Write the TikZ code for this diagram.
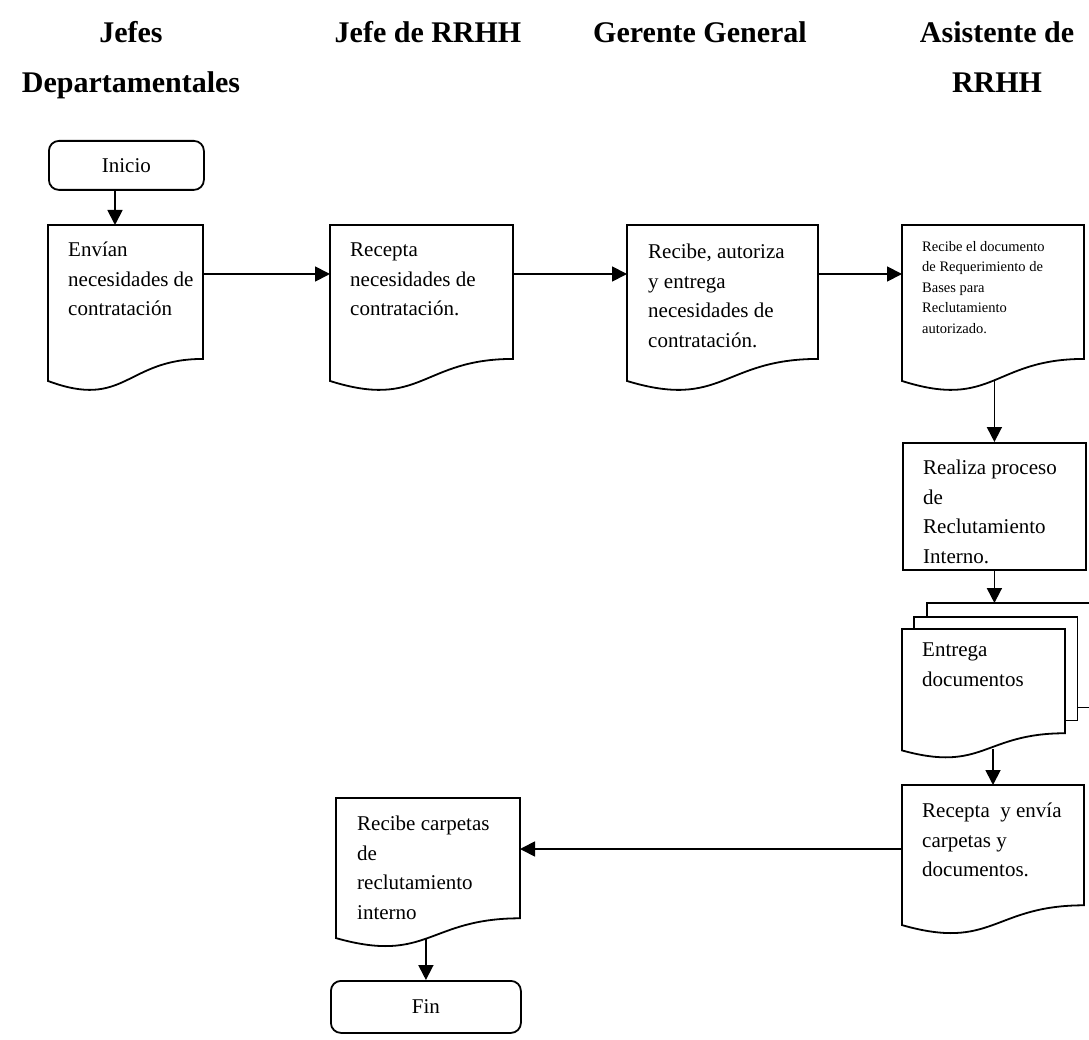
\documentclass[tikz,border=0pt]{standalone}
\usepackage{fontspec}
\setmainfont{Liberation Serif}
\usetikzlibrary{arrows.meta,calc}
\newcommand\mydoc[5]{%
  \node[inner sep=0pt,outer sep=0pt,minimum width=#4pt,minimum height=#5pt,anchor=north west] (#1) at (#2,#3) {};
  \draw[ln] (#1.north west) -- (#1.north east) -- ($(#1.north east)!0.802!(#1.south east)$)
    .. controls ($(#1.north)!0.802!(#1.south)$) and ($(#1.north)!1.1075!(#1.south)$) ..
    ($(#1.north west)!0.934!(#1.south west)$) -- cycle;
}
\begin{document}
\begin{tikzpicture}[x=1pt,y=-1pt,
  ln/.style={line width=1.8pt,line join=miter},
  arr/.style={line width=1.8pt,-{Triangle[length=15pt,width=15pt]}},
  hdr/.style={font=\fontsize{30}{36}\selectfont\bfseries,anchor=base,inner sep=0pt},
  txt/.style={font=\fontsize{21}{29.5}\selectfont,align=left,anchor=north west,inner sep=0pt},
  smalltxt/.style={font=\fontsize{14.5}{20.5}\selectfont,align=left,anchor=north west,inner sep=0pt},
  term/.style={draw,ln,rounded corners=10pt,inner sep=0pt,anchor=north west,font=\fontsize{21}{25}\selectfont}]
\useasboundingbox (0,0) rectangle (1089,1040);
\clip (0,0) rectangle (1089,1040);

% headers
\node[hdr] (h1a) at (131,43) {Jefes};
\node[hdr] (h1b) at (131,93) {Departamentales};
\node[hdr] (h2) at (428,43) {Jefe de RRHH};
\node[hdr] (h3) at (700,43) {Gerente General};
\node[hdr] (h4a) at (997,43) {Asistente de};
\node[hdr] (h4b) at (997,93) {RRHH};

% terminals
\node[term,minimum width=155pt,minimum height=49pt] (ini) at (48,140) {Inicio};
\node[term,minimum width=190pt,minimum height=52pt] (fin) at (330,980) {Fin};

% documents
\mydoc{d1}{48}{225}{155}{167}
\mydoc{d2}{330}{225}{183}{167}
\mydoc{d3}{627}{225}{191}{167}
\mydoc{d4}{902}{225}{182}{167}
\node[draw,ln,inner sep=0pt,minimum width=183pt,minimum height=127pt,anchor=north west] (b5) at (902,442) {};

% multi-document
\node[inner sep=0pt,minimum width=163pt,minimum height=104pt,anchor=north west] (m3) at (927,603) {};
\node[inner sep=0pt,minimum width=163pt,minimum height=103pt,anchor=north west] (m2) at (914,617) {};
\draw[ln] ($(m3.north west)+(0,14)$) -- (m3.north west) -- (m3.north east) -- (m3.south east) -- ($(m3.south east)+(-13,0)$);
\draw[ln] ($(m2.north west)+(0,12)$) -- (m2.north west) -- (m2.north east) -- (m2.south east) -- ($(m2.south east)+(-12,0)$);
\mydoc{m1}{902}{629}{163}{130}

\mydoc{d6}{902}{785}{182}{150}
\mydoc{d7}{336}{798}{184}{150}

% texts (positions: first-line top)
\node[txt] (t1) at (68,242) {Envían\\necesidades de\\contratación};
\node[txt] (t2) at (350,243) {Recepta\\necesidades de\\contratación.};
\node[txt] (t3) at (648,244) {Recibe, autoriza\\y entrega\\necesidades de\\contratación.};
\node[smalltxt] (t4) at (922,241) {Recibe el documento\\de Requerimiento de\\Bases para\\Reclutamiento\\autorizado.};
\node[txt] (t5) at (923,460) {Realiza proceso\\de\\Reclutamiento\\Interno.};
\node[txt] (t6) at (922,643) {Entrega\\documentos};
\node[txt] (t7) at (922,803) {Recepta\ \ y envía\\carpetas y\\documentos.};
\node[txt] (t8) at (357,816) {Recibe carpetas\\de\\reclutamiento\\interno};

% connectors
\draw[arr] ($(ini.south west)+(67,0)$) -- ($(d1.north west)+(67,0)$);
\draw[arr] ($(d1.north east)+(0,49)$) -- ($(d2.north west)+(0,49)$);
\draw[arr] ($(d2.north east)+(0,49)$) -- ($(d3.north west)+(0,49)$);
\draw[arr] ($(d3.north east)+(0,49)$) -- ($(d4.north west)+(0,49)$);
\draw[arr] ($(b5.north |- d4.south)+(0,-11)$) -- (b5.north);
\draw[arr] (b5.south) -- (b5.south |- m3.north);
\draw[arr] ($(d6.north |- m1.south)+(0,-10)$) -- (d6.north);
\draw[arr] ($(d6.north west)+(0,64)$) -- ($(d7.north east)+(0,51)$);
\draw[arr] ($(fin.north |- d7.south)+(0,-10)$) -- (fin.north);
\end{tikzpicture}
\end{document}
